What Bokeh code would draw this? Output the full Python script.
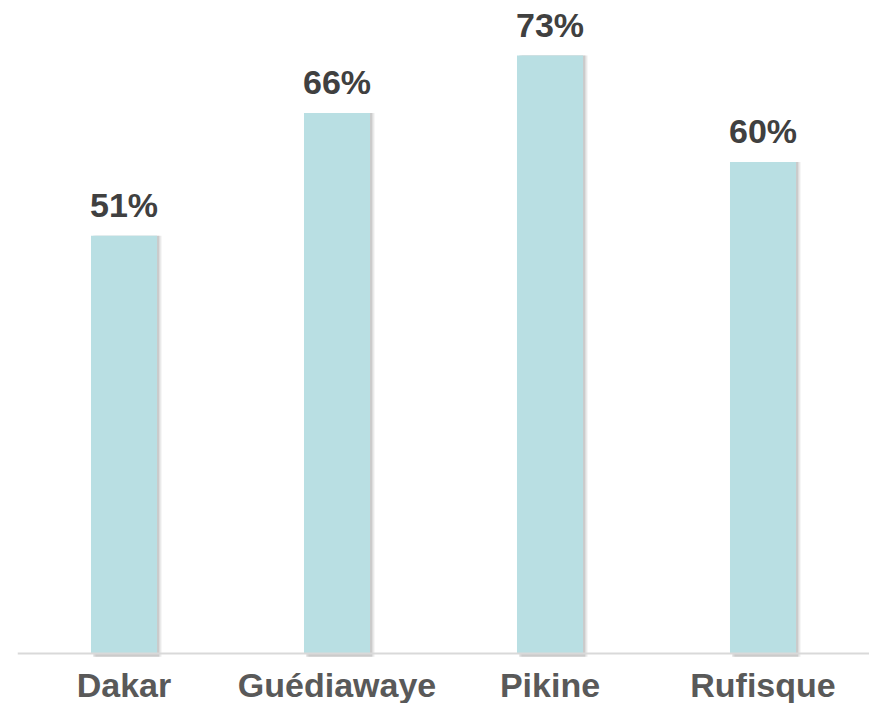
from bokeh.plotting import figure
from bokeh.models import ColumnDataSource, FactorRange, Range1d, Span
from bokeh.transform import dodge
from bokeh.core.properties import value
from bokeh.embed import file_html
from bokeh.resources import INLINE

categories = ["Dakar", "Guédiawaye", "Pikine", "Rufisque"]
shares = [51, 66, 73, 60]
labels = ["51%", "66%", "73%", "60%"]

src = ColumnDataSource(data=dict(cat=categories, val=shares, lab=labels,
                                 zero=[0] * len(categories)))

p = figure(x_range=FactorRange(*categories, range_padding=0.0),
           y_range=Range1d(-6.1, 78.75),
           width=869, height=703, output_backend="svg", toolbar_location=None,
           min_border_left=17, min_border_right=0, min_border_top=8, min_border_bottom=0)
p.outline_line_color = None
p.background_fill_color = "white"
p.border_fill_color = "white"
p.xgrid.grid_line_color = None
p.ygrid.grid_line_color = None
p.xaxis.visible = False
p.yaxis.visible = False

# soft shadow on the right
for off, a in [(0.022, 0.10), (0.016, 0.15), (0.010, 0.22)]:
    p.vbar(x=dodge("cat", off, range=p.x_range), top="val", bottom=-0.4, width=0.31,
           source=src, fill_color="#808080", fill_alpha=a, line_color=None)

p.vbar(x="cat", top="val", width=0.31, source=src, fill_color="#b9dfe3", line_color=None)

p.add_layout(Span(location=0, dimension="width", line_color="#d9d9d9", line_width=2))

p.text(x="cat", y="val", text="lab", source=src, text_align="center",
       text_baseline="alphabetic", y_offset=-31,
       text_font=value("Liberation Sans"), text_font_style="bold",
       text_font_size="34px", text_color="#404040")

p.text(x="cat", y="zero", text="cat", source=src, text_align="center",
       text_baseline="alphabetic", y_offset=31,
       text_font=value("Liberation Sans"), text_font_style="bold",
       text_font_size="34px", text_color="#595959")

open("out.html", "w").write(file_html(p, INLINE))
